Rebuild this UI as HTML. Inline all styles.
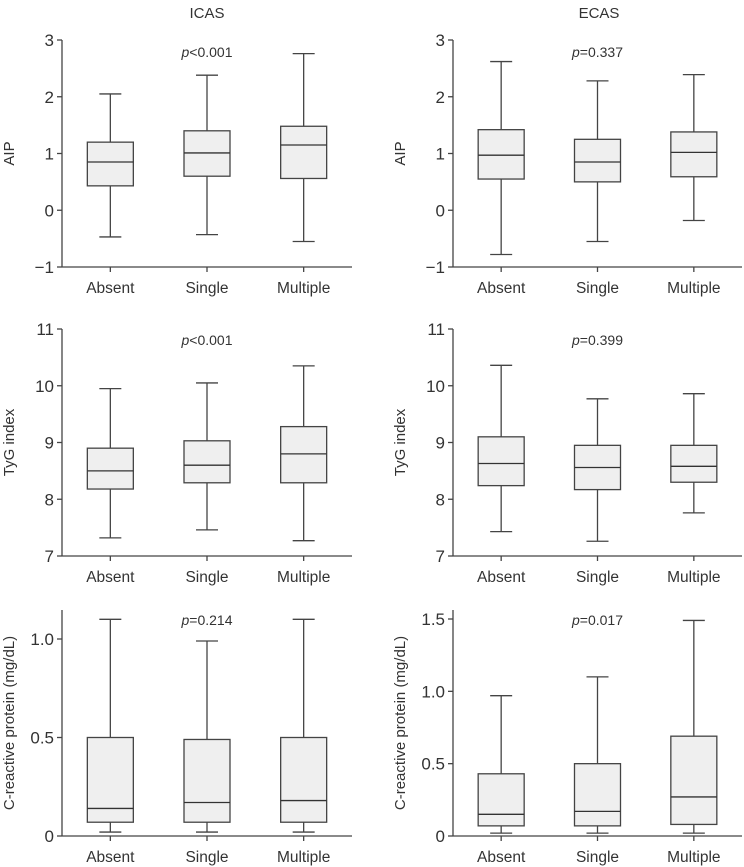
<!DOCTYPE html>
<html><head><meta charset="utf-8"><style>
html,body{margin:0;padding:0;background:#fff;}
svg{display:block;font-family:"Liberation Sans",sans-serif;}
</style></head><body>
<svg id="chart" width="744" height="867" viewBox="0 0 744 867">
<text x="207" y="18" font-size="15" text-anchor="middle" fill="#333">ICAS</text>
<text x="599" y="18" font-size="15" text-anchor="middle" fill="#333">ECAS</text>
</svg>
<script>
const categories = ["Absent", "Single", "Multiple"];
// [whiskerHigh, q3, median, q1, whiskerLow]
const icasAip = [[2.05,1.2,0.85,0.43,-0.47],[2.38,1.4,1.01,0.6,-0.43],[2.76,1.48,1.15,0.56,-0.55]];
const ecasAip = [[2.62,1.42,0.97,0.55,-0.78],[2.28,1.25,0.85,0.5,-0.55],[2.39,1.38,1.02,0.59,-0.18]];
const icasTyg = [[9.95,8.9,8.5,8.18,7.32],[10.05,9.03,8.6,8.29,7.46],[10.35,9.28,8.8,8.29,7.27]];
const ecasTyg = [[10.36,9.1,8.63,8.24,7.43],[9.77,8.95,8.56,8.17,7.26],[9.86,8.95,8.58,8.3,7.76]];
const icasCrp = [[1.1,0.5,0.14,0.07,0.02],[0.99,0.49,0.17,0.07,0.02],[1.1,0.5,0.18,0.07,0.02]];
const ecasCrp = [[0.97,0.43,0.15,0.07,0.02],[1.1,0.5,0.17,0.07,0.02],[1.49,0.69,0.27,0.08,0.02]];
const aipTicks = [3,2,1,0,-1];
const aipTickLabels = ["3","2","1","0","\u22121"];
const tygTicks = [11,10,9,8,7];
const tygTickLabels = ["11","10","9","8","7"];
const crpTicksL = [1.0,0.5,0];
const crpTickLabelsL = ["1.0","0.5","0"];
const crpTicksR = [1.5,1.0,0.5,0];
const crpTickLabelsR = ["1.5","1.0","0.5","0"];
const pValues = ["<0.001","=0.337","<0.001","=0.399","=0.214","=0.017"];

const NS = "http://www.w3.org/2000/svg";
const svg = document.getElementById("chart");
function mk(tag, attrs, parent){const e=document.createElementNS(NS,tag);for(const k in attrs)e.setAttribute(k,attrs[k]);(parent||svg).appendChild(e);return e;}

function panel(o){
  const g = mk("g",{});
  
  
  const y = v => o.y0 + (v - o.v0) * (o.y1 - o.y0) / (o.v1 - o.v0);
  const step = (o.xr - o.xl) / 3;
  const cx = i => o.xl + step * (i + 0.5);
  const col = "#444";
  const ya = mk("line",{x1:o.xl,x2:o.xl,y1:o.top,y2:o.y1,stroke:col,"stroke-width":1.3},g);
  
  
  const xa = mk("line",{x1:o.xl,x2:o.xr,y1:o.y1,y2:o.y1,stroke:col,"stroke-width":1.3},g);
  
  
  o.ticks.forEach((t,i)=>{
    const yy=y(t);
    mk("line",{x1:o.xl-5,x2:o.xl,y1:yy,y2:yy,stroke:col,"stroke-width":1.3},g);
    const tl = mk("text",{x:o.xl-8,y:yy+6,"font-size":17,"text-anchor":"end",fill:"#333"},g);
    
    
    tl.textContent=o.tickLabels[i];
  });
  categories.forEach((c,i)=>{
    const x=cx(i);
    mk("line",{x1:x,x2:x,y1:o.y1,y2:o.y1+5,stroke:col,"stroke-width":1.3},g);
    const xl = mk("text",{x:x,y:o.y1+26,"font-size":15.5,"text-anchor":"middle",fill:"#333"},g);
    
    
    xl.textContent=c;
    const d=o.data[i];
    const hw=23, cw=11;
    const bg = mk("g",{},g);
    
    
    mk("line",{x1:x,x2:x,y1:y(d[0]),y2:y(d[1]),stroke:col,"stroke-width":1.3},bg);
    mk("line",{x1:x,x2:x,y1:y(d[3]),y2:y(d[4]),stroke:col,"stroke-width":1.3},bg);
    mk("line",{x1:x-cw,x2:x+cw,y1:y(d[0]),y2:y(d[0]),stroke:col,"stroke-width":1.3},bg);
    mk("line",{x1:x-cw,x2:x+cw,y1:y(d[4]),y2:y(d[4]),stroke:col,"stroke-width":1.3},bg);
    mk("rect",{x:x-hw,y:y(d[1]),width:hw*2,height:y(d[3])-y(d[1]),fill:"#efefef",stroke:col,"stroke-width":1.3},bg);
    mk("line",{x1:x-hw,x2:x+hw,y1:y(d[2]),y2:y(d[2]),stroke:"#333","stroke-width":1.3},bg);
  });
  const pt = mk("text",{x:cx(1),y:o.py,"font-size":14,"text-anchor":"middle",fill:"#333"},g);
  
  
  const ip = mk("tspan",{"font-style":"italic"},pt); ip.textContent="p";
  const rest = mk("tspan",{},pt); rest.textContent=o.p;
  const midY=(o.top+o.y1)/2;
  const tt = mk("text",{x:0,y:0,"font-size":15,"text-anchor":"middle",fill:"#333",transform:`translate(${o.tx},${midY}) rotate(-90)`},g);
  
  
  tt.textContent=o.title;
}

const L={xl:62,xr:352}, R={xl:453,xr:742};
panel({name:"icas-aip-panel",xl:L.xl,xr:L.xr,top:40,y0:40,v0:3,y1:267,v1:-1,ticks:aipTicks,tickLabels:aipTickLabels,data:icasAip,p:pValues[0],py:57,tx:14,title:"AIP"});
panel({name:"ecas-aip-panel",xl:R.xl,xr:R.xr,top:40,y0:40,v0:3,y1:267,v1:-1,ticks:aipTicks,tickLabels:aipTickLabels,data:ecasAip,p:pValues[1],py:57,tx:405,title:"AIP"});
panel({name:"icas-tyg-panel",xl:L.xl,xr:L.xr,top:329,y0:329,v0:11,y1:556,v1:7,ticks:tygTicks,tickLabels:tygTickLabels,data:icasTyg,p:pValues[2],py:345,tx:14,title:"TyG index"});
panel({name:"ecas-tyg-panel",xl:R.xl,xr:R.xr,top:329,y0:329,v0:11,y1:556,v1:7,ticks:tygTicks,tickLabels:tygTickLabels,data:ecasTyg,p:pValues[3],py:345,tx:405,title:"TyG index"});
panel({name:"icas-crp-panel",xl:L.xl,xr:L.xr,top:610,y0:639,v0:1.0,y1:836,v1:0,ticks:crpTicksL,tickLabels:crpTickLabelsL,data:icasCrp,p:pValues[4],py:625,tx:14,title:"C-reactive protein (mg/dL)"});
panel({name:"ecas-crp-panel",xl:R.xl,xr:R.xr,top:610,y0:619,v0:1.5,y1:836,v1:0,ticks:crpTicksR,tickLabels:crpTickLabelsR,data:ecasCrp,p:pValues[5],py:625,tx:405,title:"C-reactive protein (mg/dL)"});
</script>
</body></html>
